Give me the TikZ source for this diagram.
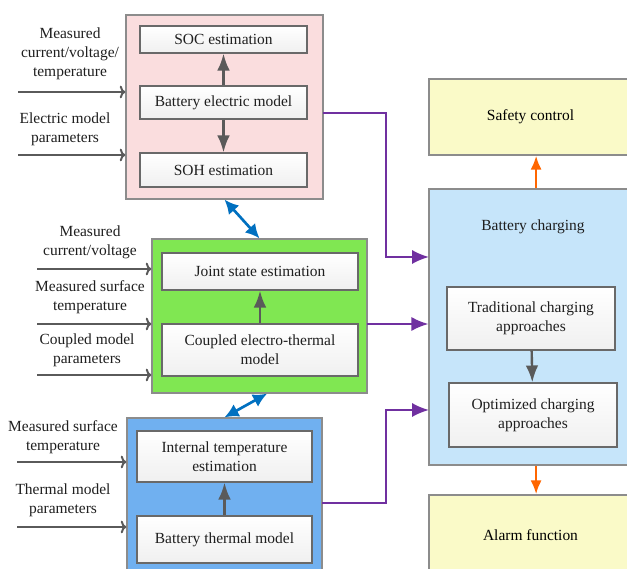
\documentclass[tikz,border=0pt]{standalone}
\usepackage{fontspec}
\setmainfont{Liberation Serif}
\usepackage{tikz}
\usetikzlibrary{arrows.meta}
\usepackage{color}
\definecolor{BoxLine}{RGB}{140,140,140}
\definecolor{BlkLine}{RGB}{105,105,105}
\definecolor{Elec}{RGB}{250,221,222}
\definecolor{Coup}{RGB}{128,231,82}
\definecolor{Therm}{RGB}{112,176,240}
\definecolor{Chrg}{RGB}{198,229,250}
\definecolor{Func}{RGB}{250,250,200}
\definecolor{Purp}{RGB}{112,48,160}
\definecolor{Blue}{RGB}{0,112,192}
\definecolor{Orng}{RGB}{255,102,0}
\definecolor{ArrGray}{RGB}{90,90,90}

\begin{document}
\begin{tikzpicture}[x=0.025cm, y=-0.025cm, font=\fontsize{11}{13.5}\selectfont]
    \tikzset{ grp/.style ={draw=BoxLine, line width=0.9pt, inner sep=0pt} }
    \tikzset{ blk/.style ={draw=BlkLine, line width=0.9pt, top color=white, bottom color=black!6, inner sep=0pt, align=center, text=black!88} }
    \tikzset{ lbl/.style ={align=center, text=black!88, inner sep=0pt} }
    \tikzset{ inp/.style ={draw=ArrGray, line width=1.4pt, -{To[length=4pt,width=9pt]}} }
    \tikzset{ sub/.style ={draw=ArrGray, line width=1.7pt, -{Latex[length=12pt,width=9pt]}} }
    \tikzset{ pur/.style ={draw=Purp, line width=1.4pt, -{Latex[length=12pt,width=10pt]}} }
    \tikzset{ dbl/.style ={draw=Blue, line width=1.9pt, {Latex[length=10pt,width=10pt]}-{Latex[length=10pt,width=10pt]}} }
    \tikzset{ org/.style ={draw=Orng, line width=1.9pt, -{Latex[length=10pt,width=8pt]}} }

    \useasboundingbox[fill=white] (0,0) rectangle (627,569);

    % electric model group
    \node[grp, fill=Elec, minimum width=4.925cm, minimum height=4.6cm] (elec) at (224.5,107) {};
    \node[blk, minimum width=4.175cm, minimum height=0.675cm] (soc) at (223.5,39.5) {SOC estimation};
    \node[blk, minimum width=4.175cm, minimum height=0.825cm] (bem) at (223.5,102.5) {Battery electric model};
    \node[blk, minimum width=4.175cm, minimum height=0.85cm] (soh) at (223.5,170) {SOH estimation};

    % coupled model group
    \node[grp, fill=Coup, minimum width=5.375cm, minimum height=3.85cm] (coup) at (259.5,316) {};
    \node[blk, minimum width=4.9cm, minimum height=0.925cm] (joint) at (260,271.5) {Joint state estimation};
    \node[blk, minimum width=4.9cm, minimum height=1.3cm] (cetm) at (260,350) {Coupled electro-thermal\\model};

    % thermal model group
    \node[grp, fill=Therm, minimum width=4.875cm, minimum height=3.925cm] (therm) at (224.5,496.5) {};
    \node[blk, minimum width=4.375cm, minimum height=1.275cm] (itemp) at (224.5,456.5) {Internal temperature\\estimation};
    \node[blk, minimum width=4.375cm, minimum height=1.175cm] (btm) at (224.5,539.5) {Battery thermal model};

    % charging side
    \node[grp, fill=Func, minimum width=5.075cm, minimum height=1.9cm] (safe) at (530.5,117) {Safety control};
    \node[grp, fill=Chrg, minimum width=5.075cm, minimum height=6.9cm] (chg) at (530.5,327) {};
    \node[lbl] (chg_t) at (533,227) {Battery charging};
    \node[blk, minimum width=4.2cm, minimum height=1.575cm] (trad) at (531,318.5) {Traditional charging\\approaches};
    \node[blk, minimum width=4.2cm, minimum height=1.6cm] (opt) at (533,415) {Optimized charging\\approaches};
    \node[grp, fill=Func, minimum width=5.075cm, minimum height=2cm] (alarm) at (530.5,535) {Alarm function};

    % input labels
    \node[lbl] (in_cvt) at (70,54) {Measured\\current/voltage/\\temperature};
    \node[lbl] (in_emp) at (65,129) {Electric model\\parameters};
    \node[lbl] (in_cv)  at (90,242.5) {Measured\\current/voltage};
    \node[lbl] (in_st1) at (90,297.5) {Measured surface\\temperature};
    \node[lbl] (in_cmp) at (87,350) {Coupled model\\parameters};
    \node[lbl] (in_st2) at (63,437) {Measured surface\\temperature};
    \node[lbl] (in_tmp) at (63,500) {Thermal model\\parameters};

    \coordinate (a1) at (18,92);
    \coordinate (a2) at (18,155);
    \coordinate (b1) at (37,269);
    \coordinate (b2) at (37,324);
    \coordinate (b3) at (37,375);
    \coordinate (c1) at (17,462);
    \coordinate (c2) at (17,527);

    \draw[inp] (a1) -- (a1 -| elec.west);
    \draw[inp] (a2) -- (a2 -| elec.west);
    \draw[inp] (b1) -- (b1 -| coup.west);
    \draw[inp] (b2) -- (b2 -| coup.west);
    \draw[inp] (b3) -- (b3 -| coup.west);
    \draw[inp] (c1) -- (c1 -| therm.west);
    \draw[inp] (c2) -- (c2 -| therm.west);

    % arrows inside the groups
    \draw[sub] (bem) -- (soc);
    \draw[sub] (bem) -- (soh);
    \draw[sub] (cetm) -- (joint);
    \draw[sub] (btm) -- (itemp);
    \draw[sub] (trad) -- (opt);

    % links between the groups
    \draw[dbl] (elec.south) -- (coup.north);
    \draw[dbl] ([xshift=0.19cm]coup.south) -- (therm.north);

    \coordinate (bus) at (386,0);
    \coordinate (e_out) at (323,113);
    \coordinate (c_out) at (367,324);
    \coordinate (t_out) at (322,503);
    \coordinate (chg_in1) at (429,257);
    \coordinate (chg_in3) at (429,410);

    \draw[pur] (e_out) -- (e_out -| bus) |- (chg_in1);
    \draw[pur] (c_out) -- (c_out -| chg.west);
    \draw[pur] (t_out) -- (t_out -| bus) |- (chg_in3);

    \draw[org] ([xshift=0.14cm]chg.north) -- ([xshift=0.14cm]safe.south);
    \draw[org] ([xshift=0.14cm]chg.south) -- ([xshift=0.14cm]alarm.north);

  \end{tikzpicture}
\end{document}
